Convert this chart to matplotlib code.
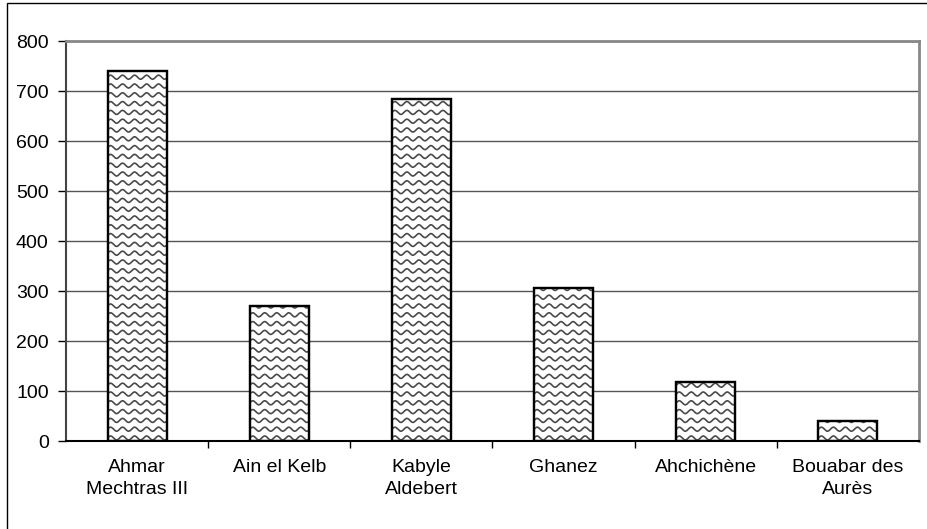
import numpy as np
import matplotlib
matplotlib.use("Agg")
import matplotlib.pyplot as plt
from matplotlib.patches import Rectangle

plt.rcParams['font.family'] = ['Liberation Sans', 'DejaVu Sans']

categories = ["Ahmar\nMechtras III", "Ain el Kelb", "Kabyle\nAldebert",
              "Ghanez", "Ahchichène", "Bouabar des\nAurès"]
values = [740, 270, 685, 306, 118, 40]
y_ticks = [0, 100, 200, 300, 400, 500, 600, 700, 800]

W, H, DPI = 927, 529, 100
fig = plt.figure(figsize=(W / DPI, H / DPI), dpi=DPI)
fig.patch.set_facecolor("white")

# outer chart frame (runs off the right and bottom edges)
fig.patches.append(Rectangle((7 / W, -0.05), 1.05, (H - 3) / H + 0.05,
                             transform=fig.transFigure, fill=False,
                             edgecolor="black", linewidth=1.0))

left, right, top, bottom = 66, 919, 41, 441
ax = fig.add_axes([left / W, (H - bottom) / H, (right - left) / W, (bottom - top) / H])

n = len(categories)
x = np.arange(n)
ax.set_xlim(-0.5, n - 0.5)
ax.set_ylim(0, 800)

# gridlines
ax.set_yticks(y_ticks)
ax.yaxis.grid(True, color="#555555", linewidth=1.0)
ax.set_axisbelow(True)

bar_w = 0.415
bars = ax.bar(x, values, width=bar_w, color="white", edgecolor="black",
              linewidth=1.6, zorder=3)

# wavy fill pattern, sized in pixels and converted to data units
px_x = n / (right - left)          # data units per pixel (x)
px_y = 800 / (bottom - top)        # data units per pixel (y)
period = 12.0 * px_x
spacing = 8.8 * px_y
amp = 2.0 * px_y
for b in bars:
    x0, x1 = b.get_x(), b.get_x() + b.get_width()
    h = b.get_height()
    xs = np.linspace(x0 - period, x1 + period, 400)
    wave = amp * np.sin(2 * np.pi * (xs - x0) / period)
    yy = 3 * px_y
    while yy < h + spacing:
        ln, = ax.plot(xs, yy + wave, color="#4a4a4a", linewidth=1.2,
                      zorder=3.5, solid_capstyle="butt")
        ln.set_clip_path(b)
        yy += spacing
    # redraw edge on top of the pattern
    ax.add_patch(Rectangle((x0, 0), b.get_width(), h, fill=False,
                           edgecolor="black", linewidth=1.6, zorder=4))

# axis frame
for s in ("top", "right"):
    ax.spines[s].set_color("#888888")
    ax.spines[s].set_linewidth(2.0)
ax.spines["left"].set_color("#444444")
ax.spines["left"].set_linewidth(1.5)
ax.spines["bottom"].set_color("black")
ax.spines["bottom"].set_linewidth(1.5)
ax.spines["bottom"].set_zorder(5)

fs = 14
ax.tick_params(axis="y", direction="out", length=5.5, width=1.0,
               color="black", pad=7, labelsize=fs)
ax.set_xticks(x)
ax.set_xticklabels(categories, fontsize=fs, linespacing=1.4)
ax.tick_params(axis="x", which="major", length=0, pad=13)
ax.set_xticks(np.arange(-0.5, n, 1.0)[1:-1], minor=True)
ax.tick_params(axis="x", which="minor", direction="out", length=5,
               width=1.0, color="black")

fig.savefig("out.png", dpi=DPI)
